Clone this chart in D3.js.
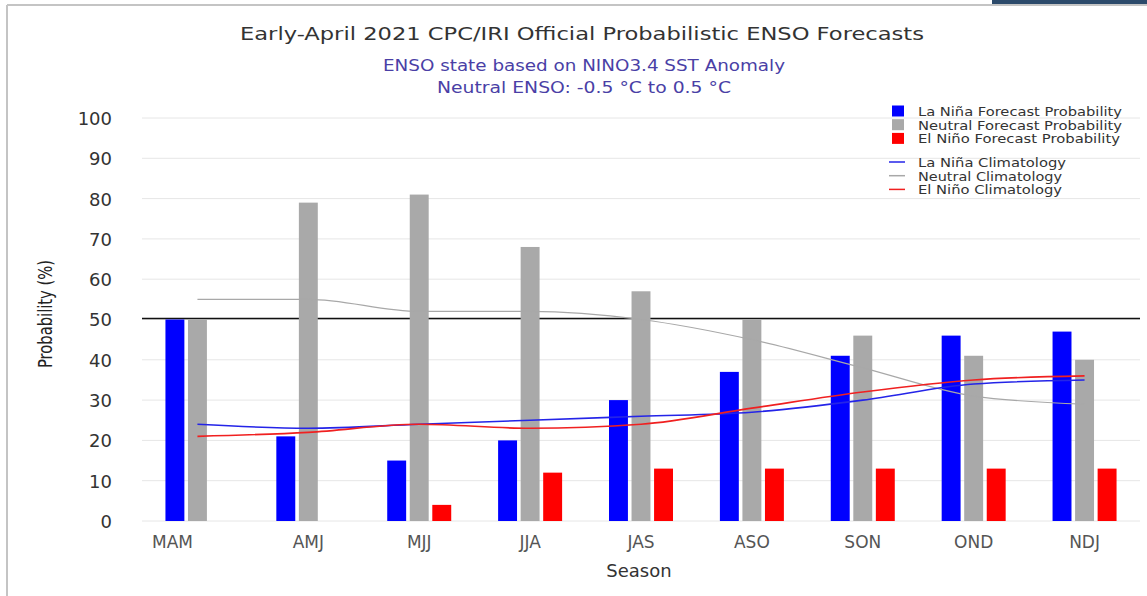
<!DOCTYPE html>
<html>
<head>
<meta charset="utf-8">
<script src="https://cdn.jsdelivr.net/npm/d3@7/dist/d3.min.js"></script>
<style>
  html, body { margin: 0; padding: 0; background: #fff; }
  svg { display: block; }
</style>
</head>
<body>
<svg id="chart" width="1147" height="596"></svg>
<script>
const seasons = ["MAM", "AMJ", "MJJ", "JJA", "JAS", "ASO", "SON", "OND", "NDJ"];
const laNina = [50, 21, 15, 20, 30, 37, 41, 46, 47];
const neutral = [50, 79, 81, 68, 57, 50, 46, 41, 40];
const elNino = [0, 0, 4, 12, 13, 13, 13, 13, 13];
const laNinaClim = [24, 23, 24, 25, 26, 27, 30, 34, 35];
const neutralClim = [55, 55, 52, 52, 50, 45, 38, 31, 29];
const elNinoClim = [21, 22, 24, 23, 24, 28, 32, 35, 36];
const yTicks = [0, 10, 20, 30, 40, 50, 60, 70, 80, 90, 100];
const seriesNames = ["La Niña Forecast Probability", "Neutral Forecast Probability", "El Niño Forecast Probability"];
const climNames = ["La Niña Climatology", "Neutral Climatology", "El Niño Climatology"];

const barColors = ["#0000ff", "#a9a9a9", "#ff0000"];
const lineColors = ["#2424e8", "#a8a8a8", "#f02020"];
const seriesLegendWidths = [204, 204, 202];
const climLegendWidths = [148, 144, 144];

const svg = d3.select("#chart");
const font = "'DejaVu Sans', 'Open Sans', sans-serif";

// frame
svg.append("line").attr("x1", 7).attr("x2", 1147).attr("y1", 5).attr("y2", 5)
  .attr("stroke", "#c4c4c4").attr("stroke-width", 2);
svg.append("line").attr("x1", 7).attr("x2", 7).attr("y1", 5).attr("y2", 596)
  .attr("stroke", "#c4c4c4").attr("stroke-width", 2);
svg.append("rect").attr("x", 992).attr("y", 0).attr("width", 155).attr("height", 4)
  .attr("fill", "#2c4a6b");

const x = d3.scaleBand().domain(seasons).range([142, 1140]).paddingInner(0).paddingOuter(0);
const y = d3.scaleLinear().domain([0, 100]).range([521, 118]);
const inner = d3.scaleBand().domain([0, 1, 2]).range([-32, 32]).paddingInner(0.16);
const cx = s => x(s) + x.bandwidth() / 2;

// grid
svg.append("g").selectAll("line").data(yTicks).join("line")
  .attr("x1", 142).attr("x2", 1140)
  .attr("y1", d => y(d)).attr("y2", d => y(d))
  .attr("stroke", "#e6e6e6").attr("stroke-width", 1);

// 50% reference line
svg.append("line").attr("x1", 142).attr("x2", 1140)
  .attr("y1", y(50) - 1).attr("y2", y(50) - 1)
  .attr("stroke", "#111").attr("stroke-width", 1.5);

// y axis
const yAxis = d3.axisLeft(y).tickValues(yTicks).tickSize(0).tickPadding(0);
const yg = svg.append("g").attr("transform", "translate(112,0)").call(yAxis);
yg.select(".domain").remove();
yg.selectAll("text").attr("font-family", font).attr("font-size", 18).attr("fill", "#333")
  .attr("dy", "0.36em");

// x axis
const xAxis = d3.axisBottom(x).tickSize(0).tickPadding(0);
const xg = svg.append("g").attr("transform", "translate(0,534)").call(xAxis);
xg.select(".domain").remove();
xg.selectAll("text").attr("font-family", font).attr("font-size", 17).attr("fill", "#555")
  .attr("dy", "0.8em");
xg.selectAll(".tick").filter(d => d === "MAM").select("text").attr("x", -25);

// bars
const allSeries = [laNina, neutral, elNino];
allSeries.forEach((vals, i) => {
  svg.append("g").selectAll("rect").data(seasons).join("rect")
    .attr("x", (s) => cx(s) + inner(i))
    .attr("width", inner.bandwidth())
    .attr("y", (s, j) => y(vals[j]))
    .attr("height", (s, j) => y(0) - y(vals[j]))
    .attr("fill", barColors[i]);
});

// climatology lines
const clims = [laNinaClim, neutralClim, elNinoClim];
const lineGen = d3.line().x(d => cx(d[0])).y(d => y(d[1])).curve(d3.curveMonotoneX);
[1, 0, 2].forEach(i => {
  svg.append("path")
    .datum(seasons.map((s, j) => [s, clims[i][j]]))
    .attr("d", lineGen)
    .attr("fill", "none")
    .attr("stroke", lineColors[i])
    .attr("stroke-width", i === 1 ? 1.2 : 1.6);
});

// titles
svg.append("text").attr("x", 582).attr("y", 40).attr("text-anchor", "middle")
  .attr("font-family", font).attr("font-size", 18).attr("fill", "#333")
  .attr("textLength", 684).attr("lengthAdjust", "spacingAndGlyphs")
  .text("Early-April 2021 CPC/IRI Official Probabilistic ENSO Forecasts");
svg.append("text").attr("x", 584).attr("y", 71).attr("text-anchor", "middle")
  .attr("font-family", font).attr("font-size", 15).attr("fill", "#4a3fa6")
  .attr("textLength", 402).attr("lengthAdjust", "spacingAndGlyphs")
  .text("ENSO state based on NINO3.4 SST Anomaly");
svg.append("text").attr("x", 584).attr("y", 93).attr("text-anchor", "middle")
  .attr("font-family", font).attr("font-size", 15).attr("fill", "#4a3fa6")
  .attr("textLength", 294).attr("lengthAdjust", "spacingAndGlyphs")
  .text("Neutral ENSO: -0.5 °C to 0.5 °C");

// axis titles
svg.append("text").attr("transform", "translate(52,314) rotate(-90)")
  .attr("text-anchor", "middle")
  .attr("font-family", "'Liberation Sans Narrow', 'DejaVu Sans Condensed', sans-serif")
  .attr("font-size", 19).attr("fill", "#222")
  .attr("textLength", 108).attr("lengthAdjust", "spacingAndGlyphs")
  .text("Probability (%)");
svg.append("text").attr("x", 639).attr("y", 577).attr("text-anchor", "middle")
  .attr("font-family", font).attr("font-size", 18).attr("fill", "#333")
  .attr("font-weight", 500)
  .text("Season");

// legend
const leg = svg.append("g");
seriesNames.forEach((n, i) => {
  const yy = 111 + i * 13.7;
  leg.append("rect").attr("x", 892).attr("y", yy - 5.5).attr("width", 12).attr("height", 11)
    .attr("fill", barColors[i]);
  leg.append("text").attr("x", 918).attr("y", yy + 4.8)
    .attr("font-family", font).attr("font-size", 13).attr("fill", "#333")
    .attr("textLength", seriesLegendWidths[i]).attr("lengthAdjust", "spacingAndGlyphs")
    .text(n);
});
climNames.forEach((n, i) => {
  const yy = 162 + i * 13.7;
  leg.append("line").attr("x1", 889).attr("x2", 905).attr("y1", yy).attr("y2", yy)
    .attr("stroke", lineColors[i]).attr("stroke-width", 1.5);
  leg.append("text").attr("x", 918).attr("y", yy + 4.8)
    .attr("font-family", font).attr("font-size", 13).attr("fill", "#333")
    .attr("textLength", climLegendWidths[i]).attr("lengthAdjust", "spacingAndGlyphs")
    .text(n);
});
</script>
</body>
</html>
